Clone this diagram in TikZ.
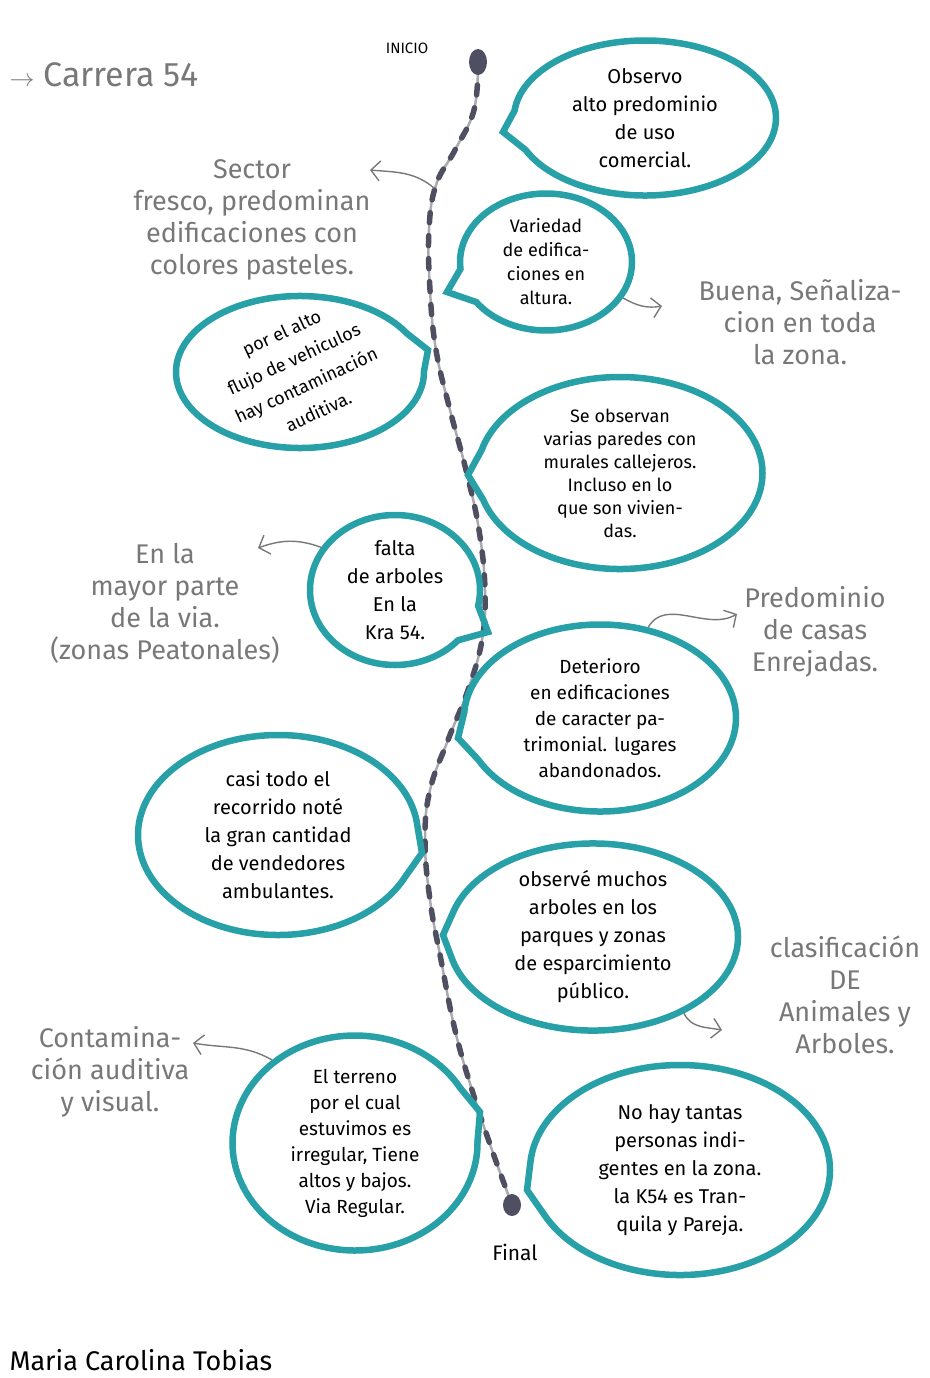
\documentclass[tikz,border=0pt]{standalone}
\usepackage{fontspec}
\setmainfont{Fira Sans}
\usetikzlibrary{shapes.callouts, shapes.geometric, arrows.meta}

\begin{document}
\begin{tikzpicture}[x=1pt, y=-1pt, >={Straight Barb[length=9pt, width=20pt]},
  bubble/.style={ellipse callout, draw=bubbleTeal, line width=6.5pt, inner sep=0pt,
    callout pointer arc=30, align=center, font=\fontsize{20}{28}\selectfont},
  note/.style={text=noteGray, align=center, font=\fontsize{27}{32}\selectfont},
  noteline/.style={noteGray, line width=1.4pt, ->},
  dot/.style={ellipse, fill=routeDark, inner sep=0pt}]

    \definecolor{bubbleTeal}{RGB}{40,160,168}   % marker bubbles
    \definecolor{routeDark}{RGB}{78,80,98}      % dashes of the route
    \definecolor{routeGray}{RGB}{170,170,175}   % line under the dashes
    \definecolor{noteGray}{RGB}{120,120,120}    % pencil notes

  \useasboundingbox (0,0) rectangle (929,1378);

  % title
  \node[text=noteGray, anchor=west, font=\fontsize{34}{38}\selectfont] (title) at (6,75) {$\rightarrow$ Carrera 54};

  % the route, from start to end
  \coordinate (start) at (478,62);
  \coordinate (fin) at (512,1205);
  \node[font=\fontsize{15}{17}\selectfont] (inicio) at (407,48) {INICIO};
  \node[font=\fontsize{21}{23}\selectfont] (final) at (515,1252) {Final};
  \draw[routeGray, line width=2.5pt, postaction={draw=routeDark, line width=5.5pt, dash pattern=on 10pt off 13pt, line cap=round}]
    plot[smooth, tension=0.7] coordinates {(start) (474,110) (455,150) (436,185) (429,230) (430,290)
      (436,350) (450,410) (466,470) (479,530) (485,590) (482,640) (468,690) (448,740) (430,790) (425,840)
      (430,900) (441,960) (455,1030) (472,1090) (492,1150) (fin)};
  \node[dot, minimum width=18, minimum height=26] (startdot) at (start) {};
  \node[dot, minimum width=18, minimum height=22] (findot) at (fin) {};

  % pointer tips of the bubbles
  \coordinate (p1) at (503,132);
  \coordinate (p2) at (447,292);
  \coordinate (p3) at (428,350);
  \coordinate (p4) at (468,475);
  \coordinate (p5) at (488,632);
  \coordinate (p6) at (458,738);
  \coordinate (p7) at (422,853);
  \coordinate (p8) at (443,935);
  \coordinate (p9) at (480,1112);
  \coordinate (p10) at (527,1190);

  % bubbles
  \node[bubble, minimum width=262, minimum height=155, callout absolute pointer={(p1)}] (b1) at (645,118)
    {Observo\\alto predominio\\de uso\\comercial.};
  \node[bubble, minimum width=172, minimum height=137, font=\fontsize{18}{24}\selectfont,
    callout absolute pointer={(p2)}] (b2) at (546,262) {Variedad\\de edifica-\\ciones en\\altura.};
  \node[bubble, minimum width=248, minimum height=152, callout absolute pointer={(p3)}] (b3) at (300,372) {};
  \node[align=center, rotate=25, font=\fontsize{18}{29}\selectfont] (t3) at (b3.center)
    {por el alto\\flujo de vehiculos\\hay contaminación\\auditiva.};
  \node[bubble, minimum width=285, minimum height=192, font=\fontsize{18}{23}\selectfont,
    callout absolute pointer={(p4)}] (b4) at (620,473)
    {Se observan\\varias paredes con\\murales callejeros.\\Incluso en lo\\que son vivien-\\das.};
  \node[bubble, minimum width=170, minimum height=150, callout absolute pointer={(p5)}] (b5) at (395,590)
    {falta\\de arboles\\En la\\Kra 54.};
  \node[bubble, minimum width=272, minimum height=187, font=\fontsize{19}{26}\selectfont,
    callout absolute pointer={(p6)}] (b6) at (600,718)
    {Deterioro\\en edificaciones\\de caracter pa-\\trimonial. lugares\\abandonados.};
  \node[bubble, minimum width=280, minimum height=200, callout absolute pointer={(p7)}] (b7) at (278,835)
    {casi todo el\\recorrido noté\\la gran cantidad\\de vendedores\\ambulantes.};
  \node[bubble, minimum width=290, minimum height=185, callout absolute pointer={(p8)}] (b8) at (593,937)
    {observé muchos\\arboles en los\\parques y zonas\\de esparcimiento\\público.};
  \node[bubble, minimum width=245, minimum height=215, font=\fontsize{19}{26}\selectfont,
    callout absolute pointer={(p9)}] (b9) at (355,1143)
    {El terreno\\por el cual\\estuvimos es\\irregular, Tiene\\altos y bajos.\\Via Regular.};
  \node[bubble, minimum width=300, minimum height=210, callout absolute pointer={(p10)}] (b10) at (680,1170)
    {No hay tantas\\personas indi-\\gentes en la zona.\\la K54 es Tran-\\quila y Pareja.};

  % pencil notes
  \node[note] (nA) at (252,220) {Sector\\fresco, predominan\\edificaciones con\\colores pasteles.};
  \node[note] (nB) at (800,322) {Buena, Señaliza-\\cion en toda\\la zona.};
  \node[note] (nC) at (165,603) {En la\\mayor parte\\de la via.\\(zonas Peatonales)};
  \node[note] (nD) at (815,632) {Predominio\\de casas\\Enrejadas.};
  \node[note] (nE) at (845,995) {clasificación\\DE\\Animales y\\Arboles.};
  \node[note] (nF) at (110,1072) {Contamina-\\ción auditiva\\y visual.};

  % arrows to the notes
  \coordinate (pa) at (434,188);
  \coordinate (aA) at (370,170);
  \coordinate (aB) at (662,306);
  \coordinate (aC) at (258,548);
  \coordinate (aD) at (737,614);
  \coordinate (aE) at (722,1030);
  \coordinate (aF) at (193,1043);
  \draw[noteline] (pa) to[out=140, in=-5] (aA);
  \draw[noteline] (b2.-25) to[out=-30, in=190] (aB);
  \draw[noteline] (b5.150) to[out=160, in=20] (aC);
  \draw[noteline] (b6.62) to[out=60, in=210] (aD);
  \draw[noteline] (b8.-40) to[out=-65, in=170] (aE);
  \draw[noteline] (b9.135) to[out=150, in=-10] (aF);

  % signature
  \node[anchor=west, font=\fontsize{27}{29}\selectfont] (firma) at (6,1360) {Maria Carolina Tobias};

\end{tikzpicture}
\end{document}
